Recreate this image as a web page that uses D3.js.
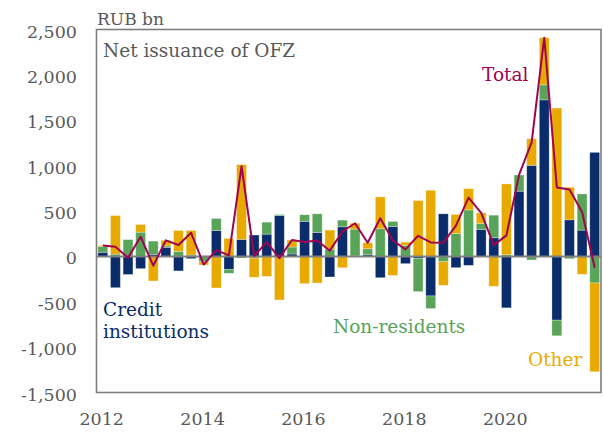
<!DOCTYPE html>
<html>
<head>
<meta charset="utf-8">
<script src="https://cdn.jsdelivr.net/npm/d3@7"></script>
<style>
  body { margin: 0; background: #fff; }
  svg { display: block; font-family: "DejaVu Serif", serif; }
</style>
</head>
<body>
<script>
// quarters 2012Q1 .. 2021Q4
let quarters = [
  "2012Q1","2012Q2","2012Q3","2012Q4","2013Q1","2013Q2","2013Q3","2013Q4",
  "2014Q1","2014Q2","2014Q3","2014Q4","2015Q1","2015Q2","2015Q3","2015Q4",
  "2016Q1","2016Q2","2016Q3","2016Q4","2017Q1","2017Q2","2017Q3","2017Q4",
  "2018Q1","2018Q2","2018Q3","2018Q4","2019Q1","2019Q2","2019Q3","2019Q4",
  "2020Q1","2020Q2","2020Q3","2020Q4","2021Q1","2021Q2","2021Q3","2021Q4"
];

// RUB bn
let credit = [45, -345, -200, -135, 22, 100, -160, -25,
  5, 285, -143, 187, 235, 245, 450, 26,
  386, 264, -227, 326, 5, 18, -235, 330,
  -80, -22, -436, 469, -124, -99, 297, 205,
  -567, 718, 1003, 1725, -703, 403, 289, 1146];
let nonResidents = [65, 25, 185, 267, 146, 15, 55, 15,
  -60, 132, -44, -18, -20, 132, 11, 77,
  73, 205, 80, 73, 295, 66, 305, 55,
  120, -366, -139, -59, 253, 512, 66, 249,
  18, 179, -40, 165, -172, -26, 399, -293];
let other = [10, 425, 0, 84, -271, 62, 230, 270,
  -35, -348, 198, 824, -210, -220, -480, 77,
  -300, -293, 210, -125, 65, 66, 350, -210,
  37, 615, 728, -260, 209, 234, 117, -330,
  780, 0, 293, 520, 1634, 359, -198, -978];
let total = [120, 105, -15, 216, -103, 177, 125, 260,
  -90, 69, 11, 993, 5, 157, -19, 180,
  159, 176, 63, 274, 365, 150, 420, 175,
  77, 227, 153, 150, 338, 647, 480, 124,
  231, 897, 1256, 2410, 759, 736, 490, -125];

let yTicks = [-1500, -1000, -500, 0, 500, 1000, 1500, 2000, 2500];
let xTickYears = ["2012", "2014", "2016", "2018", "2020"];

let series = ["credit", "nonResidents", "other"];
let colors = { credit: "#0a2c6b", nonResidents: "#58a55a", other: "#e8aa00" };

let width = 603, height = 432;
let svg = d3.select("body").append("svg")
  .attr("width", width)
  .attr("height", height);

let frame = { left: 96.5, right: 601, top: 29.5, bottom: 392.5 };

let x = d3.scaleBand()
  .domain(quarters)
  .range([frame.left, frame.right])
  .paddingInner(0.22)
  .paddingOuter(0.11);

let y = d3.scaleLinear()
  .domain([-1500, 2500])
  .range([frame.bottom, frame.top]);

// table for stacking
let rows = quarters.map((q, i) => ({
  q: q, credit: credit[i], nonResidents: nonResidents[i], other: other[i]
}));

let stacked = d3.stack()
  .keys(series)
  .offset(d3.stackOffsetDiverging)(rows);

// bars
svg.append("g")
  .selectAll("g")
  .data(stacked)
  .enter()
  .append("g")
  .attr("fill", d => colors[d.key])
  .selectAll("rect")
  .data(d => d)
  .enter()
  .append("rect")
  .attr("x", d => x(d.data.q))
  .attr("width", x.bandwidth())
  .attr("y", d => y(Math.max(d[0], d[1])))
  .attr("height", d => Math.abs(y(d[0]) - y(d[1])))
  .attr("stroke", "#fff")
  .attr("stroke-opacity", 0.35)
  .attr("stroke-width", 0.8);

// zero line
svg.append("line")
  .attr("x1", frame.left).attr("x2", frame.right)
  .attr("y1", y(0)).attr("y2", y(0))
  .attr("stroke", "#7f7f7f")
  .attr("stroke-width", 2);

// total line
let line = d3.line()
  .x((d, i) => x(quarters[i]) + x.bandwidth() / 2)
  .y(d => y(d));

svg.append("path")
  .datum(total)
  .attr("d", line)
  .attr("fill", "none")
  .attr("stroke", "#a0044f")
  .attr("stroke-width", 2)
  .attr("stroke-linejoin", "round");

// frame
svg.append("rect")
  .attr("x", frame.left).attr("y", frame.top)
  .attr("width", frame.right - frame.left)
  .attr("height", frame.bottom - frame.top)
  .attr("fill", "none")
  .attr("stroke", "#7f7f7f")
  .attr("stroke-width", 1.6);

// y tick labels
let fmt = d3.format(",");
svg.append("g")
  .selectAll("text")
  .data(yTicks)
  .enter()
  .append("text")
  .attr("x", 77)
  .attr("y", d => y(d) + 8)
  .attr("text-anchor", "end")
  .attr("font-size", 17.5)
  .attr("fill", "#595959")
  .text(d => fmt(d).replace("−", "-"));

// x tick labels
svg.append("g")
  .selectAll("text")
  .data(xTickYears)
  .enter()
  .append("text")
  .attr("x", d => x(d + "Q1") + x.step() * 0.3)
  .attr("y", 425)
  .attr("text-anchor", "middle")
  .attr("font-size", 17.5)
  .attr("fill", "#595959")
  .text(d => d);

// titles and labels
svg.append("text")
  .attr("x", 97).attr("y", 25)
  .attr("font-size", 17)
  .attr("fill", "#595959")
  .text("RUB bn");

svg.append("text")
  .attr("x", 103).attr("y", 57)
  .attr("font-size", 18.5)
  .attr("fill", "#595959")
  .text("Net issuance of OFZ");

svg.append("text")
  .attr("x", 482).attr("y", 81)
  .attr("font-size", 18.5)
  .attr("fill", "#a0044f")
  .text("Total");

let creditLabel = svg.append("text")
  .attr("font-size", 18.5)
  .attr("fill", colors.credit);
creditLabel.append("tspan").attr("x", 103).attr("y", 316).text("Credit");
creditLabel.append("tspan").attr("x", 103).attr("y", 338).text("institutions");

svg.append("text")
  .attr("x", 333).attr("y", 333)
  .attr("font-size", 18.5)
  .attr("fill", colors.nonResidents)
  .text("Non-residents");

svg.append("text")
  .attr("x", 528).attr("y", 366)
  .attr("font-size", 18.5)
  .attr("fill", colors.other)
  .text("Other");
</script>
</body>
</html>
